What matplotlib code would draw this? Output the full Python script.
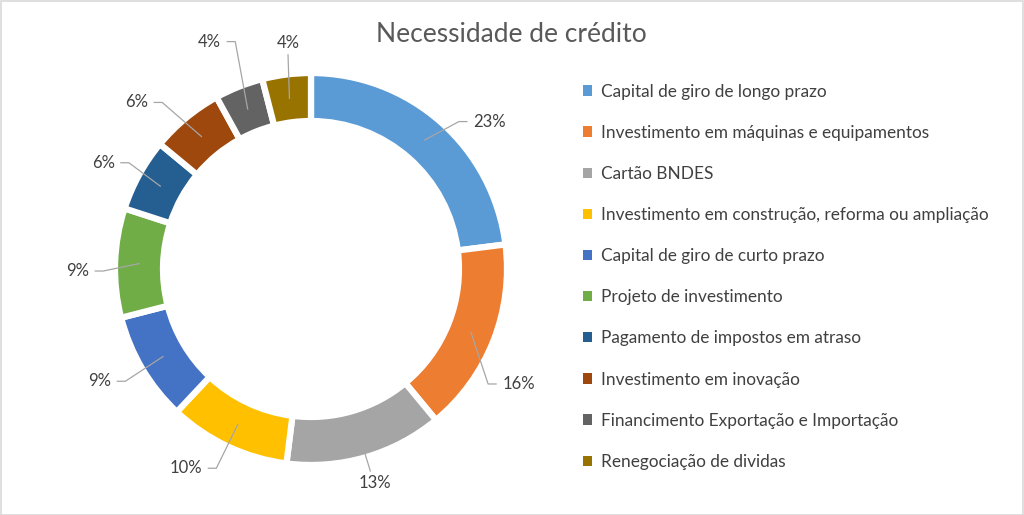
import numpy as np
import matplotlib
matplotlib.use("Agg")
import matplotlib.pyplot as plt
from matplotlib.patches import Rectangle

categories = [
    "Capital de giro de longo prazo",
    "Investimento em máquinas e equipamentos",
    "Cartão BNDES",
    "Investimento em construção, reforma ou ampliação",
    "Capital de giro de curto prazo",
    "Projeto de investimento",
    "Pagamento de impostos em atraso",
    "Investimento em inovação",
    "Financimento Exportação e Importação",
    "Renegociação de dividas",
]
values = [23, 16, 13, 10, 9, 9, 6, 6, 4, 4]
colors = ["#5B9BD5", "#ED7D31", "#A5A5A5", "#FFC000", "#4472C4",
          "#70AD47", "#255E91", "#9E480E", "#636363", "#997300"]
title = "Necessidade de crédito"

# label layout: (angle in degrees, radius as fraction of outer radius)
label_layout = [(39.6, 1.18), (-29, 1.21), (-73.3, 1.14), (-122.1, 1.20),
                (-152, 1.22), (180.5, 1.19), (152.9, 1.19), (136.3, 1.23),
                (114, 1.27), (95.8, 1.16)]

plt.rcParams['font.family'] = ['Lato', 'DejaVu Sans']

W, H = 1024, 515
fig = plt.figure(figsize=(W / 100, H / 100), dpi=100)
fig.patch.set_facecolor("white")

cx, cy, R = 311, 269, 196
ax = fig.add_axes([(cx - R * 1.5) / W, (H - cy - R * 1.5) / H, 3 * R / W, 3 * R / H])

width = 0.245
wedges, _ = ax.pie(values, colors=colors, startangle=90, counterclock=False,
                   radius=1.0, wedgeprops=dict(width=width, edgecolor="white", linewidth=4.5))
ax.set_xlim(-1.5, 1.5)
ax.set_ylim(-1.5, 1.5)
ax.set_aspect("equal")
ax.axis("off")

renderer = fig.canvas.get_renderer()
px = 1.0 / R  # one pixel in data units

cum = np.cumsum([0] + values)
total = sum(values)
rmid = 1 - width / 2
lc = "#A6A6A6"
for i, v in enumerate(values):
    mid = 90 - 360 * (cum[i] + v / 2) / total
    la, lr = label_layout[i]
    tx, ty = lr * np.cos(np.radians(la)), lr * np.sin(np.radians(la))
    sx, sy = rmid * np.cos(np.radians(mid)), rmid * np.sin(np.radians(mid))
    t = ax.text(tx, ty, f"{v}%", ha="center", va="center", fontsize=12, color="#404040")
    bb = t.get_window_extent(renderer)
    halfw = bb.width / 2 * px
    if abs(ty - sy) > 2.5 * abs(tx - sx):
        ey = ty - np.sign(ty - sy) * 12 * px
        ex = tx - 0.3 * (tx - sx) if abs(tx - sx) > 6 * px else tx
        ax.plot([sx, ex], [sy, ey], color=lc, lw=0.9)
    else:
        side = 1 if tx > sx else -1
        ex = tx - side * (halfw + 6 * px)
        elbow = ex - side * 8 * px
        ax.plot([sx, elbow, ex], [sy, ty, ty], color=lc, lw=0.9)

fig.text(511 / W, 1 - 34 / H, title, ha="center", va="center", fontsize=19, color="#595959")

leg = fig.legend(wedges, categories, loc="upper left", bbox_to_anchor=(583 / W, 1 - 83.5 / H),
                 frameon=False, fontsize=12.4, labelspacing=1.46, handlelength=0.55,
                 handleheight=0.55, handletextpad=0.5, borderaxespad=0, borderpad=0)
for t in leg.get_texts():
    t.set_color("#404040")
for h in leg.legend_handles:
    h.set_linewidth(0)

fig.patches.append(Rectangle((0.5 / W, 0.5 / H), 1 - 1.5 / W, 1 - 1.5 / H, transform=fig.transFigure,
                             fill=False, edgecolor="#D9D9D9", lw=1.2))

fig.savefig("out.png", dpi=100, facecolor="white")
